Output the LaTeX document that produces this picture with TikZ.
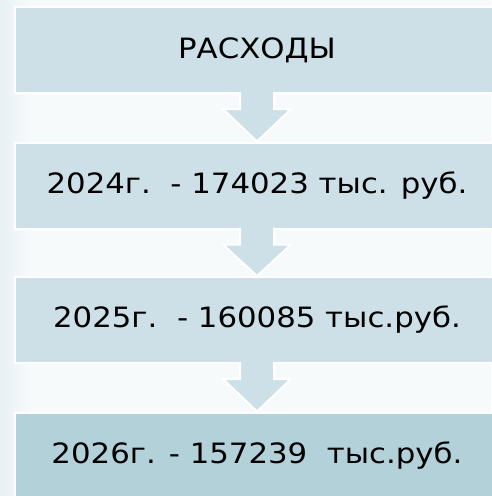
\documentclass[tikz,border=0pt]{standalone}
\usepackage{fontspec}
\setmainfont[FakeStretch=1.1]{DejaVu Sans}
\usetikzlibrary{calc}
\definecolor{bg}{HTML}{F7FAFB}
\definecolor{bgedge}{HTML}{E8F0F4}
\definecolor{boxfill}{HTML}{CDDFE7}
\definecolor{lastfill}{HTML}{B2D1D9}
\definecolor{ink}{HTML}{000000}
\tikzset{
  stage/.style={draw=white, line width=2pt, fill=boxfill, minimum width=485pt, minimum height=86pt, inner sep=0pt, text=ink, font=\fontsize{28}{33}\selectfont},
  laststage/.style={stage, fill=lastfill},
  down/.style={draw=white, line width=2pt, fill=boxfill, line join=miter},
}
\begin{document}
\begin{tikzpicture}[x=1pt,y=-1pt]
  \useasboundingbox (0,0) rectangle (491,496);
  \fill[bg] (0,0) rectangle (491,496);
  \shade[left color=bgedge, right color=bg] (0,0) rectangle (30,496);
  % stages
  \node[stage] (r1) at (257,50) {РАСХОДЫ};
  \node[stage] (r2) at (257,185.5) {2024г.\ \ - 174023 тыс. руб.};
  \node[stage] (r3) at (257,320) {2025г.\ \ - 160085 тыс.руб.};
  \node[laststage] (r4) at (257,455.5) {2026г. - 157239\ \ тыс.руб.};
  % arrows
  \foreach \a/\b in {r1/r2, r2/r3, r3/r4}
    \draw[down] ($(\a.south)+(-17,-2)$) -- ($(\a.south)+(-17,15)$) -- ($(\a.south)+(-34,15)$)
      -- (\b.north) -- ($(\a.south)+(34,15)$) -- ($(\a.south)+(17,15)$) -- ($(\a.south)+(17,-2)$);
\end{tikzpicture}
\end{document}
